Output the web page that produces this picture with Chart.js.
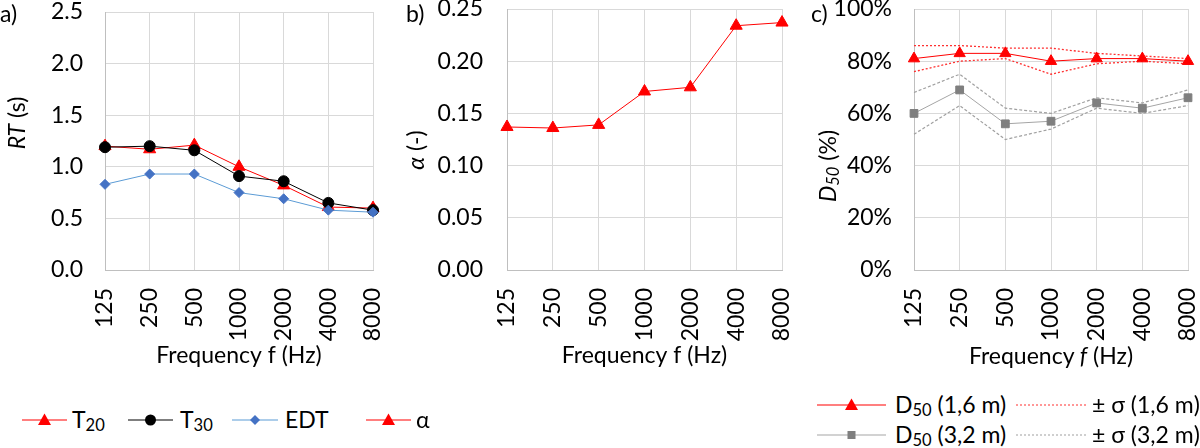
<!DOCTYPE html>
<html>
<head>
<meta charset="utf-8">
<script src="https://cdn.jsdelivr.net/npm/chart.js@4.4.1/dist/chart.umd.min.js"></script>
<style>
 body{margin:0;width:1200px;height:448px;overflow:hidden;background:#fff;position:relative;font-family:Lato,sans-serif;color:#000;}
 .box{position:absolute;top:0;}
 .txt{position:absolute;font-size:23px;line-height:26px;white-space:nowrap;}
 .ytitle{position:absolute;font-size:23px;line-height:26px;white-space:nowrap;transform:translate(-50%,-50%) rotate(-90deg);}
 .ctr{position:absolute;font-size:23px;line-height:26px;white-space:nowrap;transform:translate(-50%,-50%);}
 .legtxt{position:absolute;font-size:23px;line-height:26px;white-space:nowrap;}
 svg{position:absolute;overflow:visible;}
 sub{font-size:0.72em;vertical-align:-0.2em;line-height:0;}
</style>
</head>
<body>
<div class="box" style="left:0;width:390px;height:375px"><canvas id="ca"></canvas></div>
<div class="box" style="left:400px;width:400px;height:375px"><canvas id="cb"></canvas></div>
<div class="box" style="left:800px;width:400px;height:375px"><canvas id="cc"></canvas></div>

<div class="txt" style="left:0;top:0">a)</div>
<div class="txt" style="left:406px;top:0">b)</div>
<div class="txt" style="left:811px;top:0">c)</div>

<div class="ytitle" style="left:16px;top:123px"><i>RT</i> (s)</div>
<div class="ytitle" style="left:415px;top:150px"><i>α</i> (-)</div>
<div class="ytitle" style="left:827px;top:166px"><i>D<sub>50</sub></i> (%)</div>
<div class="ctr" style="left:1051px;top:355px">Frequency <i>f</i> (Hz)</div>

<div id="legend"></div>

<script>
// data
var freqs=['125','250','500','1000','2000','4000','8000'];
var t20=[1.20,1.17,1.21,1.00,0.82,0.61,0.60];
var t30=[1.19,1.20,1.16,0.91,0.86,0.65,0.58];
var edt=[0.83,0.93,0.93,0.75,0.69,0.58,0.56];
var alpha=[0.137,0.136,0.139,0.171,0.175,0.234,0.237];
var d50_16=[81,83,83,80,81,81,80];
var d50_16_hi=[86,86,85,85,83,82,81];
var d50_16_lo=[76,80,81,75,79,80,79];
var d50_32=[60,69,56,57,64,62,66];
var d50_32_hi=[68,75,62,60,66,64,69];
var d50_32_lo=[52,63,50,54,62,60,63];

Chart.defaults.font.family='Lato';
Chart.defaults.font.size=23;
Chart.defaults.color='#000';

// shared options for the three panels
function panelOptions(o){
 return {
  responsive:true,
  maintainAspectRatio:false,
  animation:false,
  layout:{padding:{top:o.top,right:o.right,left:0,bottom:0}},
  plugins:{legend:{display:false},tooltip:{enabled:false}},
  scales:{
   x:{
    grid:{color:'#d9d9d9',drawTicks:false},
    border:{color:'#bfbfbf'},
    ticks:{minRotation:90,maxRotation:90,autoSkip:false,padding:18},
    title:{display:!!o.xTitle,text:o.xTitle,padding:{top:0,bottom:6}},
    afterFit:function(s){s.height=105;s.paddingLeft=0;s.paddingRight=0;}
   },
   y:{
    min:o.min,max:o.max,
    grid:{color:'#d9d9d9',drawTicks:false},
    border:{color:'#bfbfbf'},
    ticks:{stepSize:o.step,padding:o.pad,callback:o.fmt},
    afterFit:function(s){s.width=o.yw;s.paddingTop=0;s.paddingBottom=0;}
   }
  }
 };
}

function series(label,data,line,fill,style,radius,order,dash,width){
 return {
  label:label,data:data,
  borderColor:line,backgroundColor:fill,
  pointBackgroundColor:fill,pointBorderColor:fill,
  borderWidth:width||1,borderDash:dash||[],
  pointStyle:style||false,pointRadius:style?radius:0,pointBorderWidth:1,
  order:order,clip:false,tension:0
 };
}

// a) reverberation time
new Chart(document.getElementById('ca'),{
 type:'line',
 data:{labels:freqs,datasets:[
  series('T20',t20,'#ff0000','#ff0000','triangle',7,3),
  series('T30',t30,'#000000','#000000','circle',5.5,2),
  series('EDT',edt,'#5b9bd5','#4472c4','rectRot',5,1)
 ]},
 options:panelOptions({top:12,right:17,yw:105,pad:22,min:0,max:2.5,step:0.5,
  fmt:function(v){return v.toFixed(1);},xTitle:'Frequency f (Hz)'})
});

// b) absorption coefficient
new Chart(document.getElementById('cb'),{
 type:'line',
 data:{labels:freqs,datasets:[
  series('α',alpha,'#ff0000','#ff0000','triangle',7,1)
 ]},
 options:panelOptions({top:9,right:18,yw:107,pad:24,min:0,max:0.25,step:0.05,
  fmt:function(v){return v.toFixed(2);},xTitle:'Frequency f (Hz)'})
});

// c) definition
new Chart(document.getElementById('cc'),{
 type:'line',
 data:{labels:freqs,datasets:[
  series('D50 (1,6 m)',d50_16,'#ff0000','#ff0000','triangle',6.5,1),
  series('+σ (1,6 m)',d50_16_hi,'#ff3030','#ff3030',false,0,3,[2,2],1.3),
  series('-σ (1,6 m)',d50_16_lo,'#ff3030','#ff3030',false,0,4,[2,2],1.3),
  series('D50 (3,2 m)',d50_32,'#a5a5a5','#7f7f7f','rect',5.5,2),
  series('+σ (3,2 m)',d50_32_hi,'#a0a0a0','#a0a0a0',false,0,5,[3,2],1.2),
  series('-σ (3,2 m)',d50_32_lo,'#a0a0a0','#a0a0a0',false,0,6,[3,2],1.2)
 ]},
 options:panelOptions({top:9,right:12,yw:114,pad:22,min:0,max:100,step:20,
  fmt:function(v){return v+'%';},xTitle:''})
});

// legends (html, line + marker samples)
function marker(type,cx,cy,fill){
 if(type=='tri') return '<polygon points="'+(cx-6.5)+','+(cy+5)+' '+(cx+6.5)+','+(cy+5)+' '+cx+','+(cy-6.5)+'" fill="'+fill+'"/>';
 if(type=='circle') return '<circle cx="'+cx+'" cy="'+cy+'" r="5.5" fill="'+fill+'"/>';
 if(type=='diamond') return '<polygon points="'+(cx-5)+','+cy+' '+cx+','+(cy-5)+' '+(cx+5)+','+cy+' '+cx+','+(cy+5)+'" fill="'+fill+'"/>';
 if(type=='square') return '<rect x="'+(cx-4)+'" y="'+(cy-4)+'" width="8" height="8" fill="'+fill+'"/>';
 return '';
}
var legendItems=[
 {x1:22,x2:67,y:420,line:'#ff0000',fill:'#ff0000',mk:'tri',tx:72,text:'T<sub>20</sub>'},
 {x1:128,x2:173,y:420,line:'#000000',fill:'#000000',mk:'circle',tx:180,text:'T<sub>30</sub>'},
 {x1:232,x2:278,y:420,line:'#5b9bd5',fill:'#4472c4',mk:'diamond',tx:285,text:'EDT'},
 {x1:366,x2:411,y:420,line:'#ff0000',fill:'#ff0000',mk:'tri',tx:416,text:'α'},
 {x1:817,x2:886,y:405,line:'#ff0000',fill:'#ff0000',mk:'tri',tx:895,text:'D<sub>50</sub> (1,6 m)'},
 {x1:1016,x2:1086,y:405,line:'#ff3030',dash:'2,2',tx:1092,text:'± σ (1,6 m)'},
 {x1:817,x2:886,y:435,line:'#a5a5a5',fill:'#7f7f7f',mk:'square',tx:895,text:'D<sub>50</sub> (3,2 m)'},
 {x1:1016,x2:1086,y:435,line:'#a0a0a0',dash:'2,2',tx:1092,text:'± σ (3,2 m)'}
];
var html='';
legendItems.forEach(function(it){
 var w=it.x2-it.x1;
 html+='<svg style="left:'+it.x1+'px;top:'+(it.y-10)+'px" width="'+w+'" height="20">'+
  '<line x1="0" y1="10" x2="'+w+'" y2="10" stroke="'+it.line+'" stroke-width="1.2"'+(it.dash?' stroke-dasharray="'+it.dash+'"':'')+'/>'+
  marker(it.mk,w/2,10,it.fill)+'</svg>';
 html+='<div class="legtxt" style="left:'+it.tx+'px;top:'+(it.y-14)+'px">'+it.text+'</div>';
});
document.getElementById('legend').innerHTML=html;
</script>
</body>
</html>
